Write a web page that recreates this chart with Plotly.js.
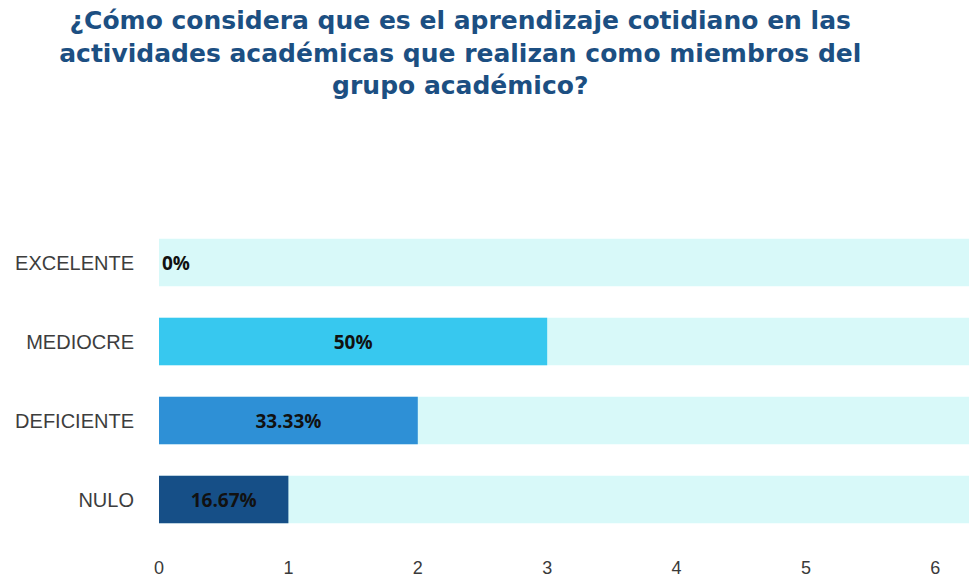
<!DOCTYPE html>
<html>
<head>
<meta charset="utf-8">
<script src="https://cdn.plot.ly/plotly-3.0.1.min.js"></script>
<style>html,body{margin:0;padding:0;background:#fff;}#chart{width:969px;height:582px;}</style>
</head>
<body>
<div id="chart"></div>
<script>
const categories = ["NULO", "DEFICIENTE", "MEDIOCRE", "EXCELENTE"];
const counts = [1, 2, 3, 0];
const percentLabels = ["16.67%", "33.33%", "50%", "0%"];
const barColors = ["#164f87", "#2e90d6", "#37c8ef", "#37c8ef"];
const backgroundValue = [7, 7, 7, 7];
const tickValues = [0, 1, 2, 3, 4, 5, 6];

const labelFont = {family: "Open Sans, Arial, sans-serif", size: 19, color: "#111111", weight: "bold"};

const bg = {
  type: "bar", orientation: "h",
  y: categories, x: backgroundValue,
  marker: {color: "#d8f9f9", cornerradius: 5},
  width: 0.6, hoverinfo: "skip", showlegend: false
};
const main = {
  type: "bar", orientation: "h",
  y: categories, x: counts,
  text: percentLabels,
  textposition: counts.map(v => v === 0 ? "outside" : "inside"),
  insidetextanchor: "middle",
  constraintext: "none",
  cliponaxis: false,
  textfont: labelFont,
  insidetextfont: labelFont,
  outsidetextfont: labelFont,
  marker: {color: barColors, cornerradius: 5},
  width: 0.6, showlegend: false
};

const layout = {
  width: 969, height: 582,
  margin: {l: 159, r: 0, t: 223, b: 43},
  paper_bgcolor: "#ffffff", plot_bgcolor: "#ffffff",
  barmode: "overlay",
  title: {
    text: "¿Cómo considera que es el aprendizaje cotidiano en las<br>actividades académicas que realizan como miembros del<br>grupo académico?",
    font: {family: "DejaVu Sans, sans-serif", size: 25, color: "#1c4f82", weight: "bold"},
    x: 0.475, xanchor: "center", xref: "container",
    y: 0.95, yanchor: "top", yref: "container"
  },
  xaxis: {
    range: [0, 6.26], tickvals: tickValues, showgrid: false, zeroline: false,
    showline: false, ticks: "", ticklabelstandoff: 16,
    tickfont: {family: "Liberation Sans, Arial, sans-serif", size: 18, color: "#3a3a3a"}
  },
  yaxis: {
    type: "category", categoryorder: "array", categoryarray: categories,
    range: [-0.5, 3.5], showgrid: false, zeroline: false, showline: false,
    ticks: "", ticklabelstandoff: 24,
    tickfont: {family: "Liberation Sans, Arial, sans-serif", size: 20, color: "#3d3d3d"}
  }
};

Plotly.newPlot("chart", [bg, main], layout, {displayModeBar: false, staticPlot: true});
</script>
</body>
</html>
